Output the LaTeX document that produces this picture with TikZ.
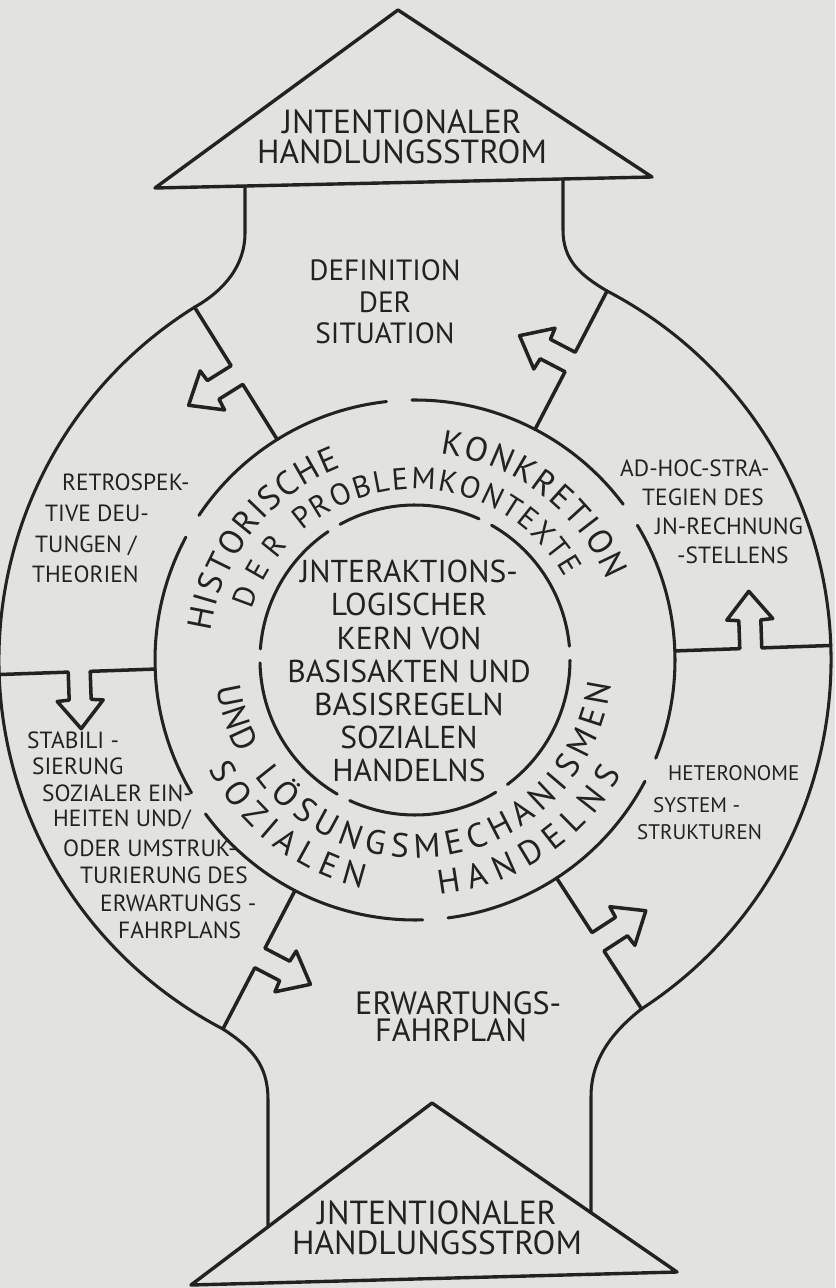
\documentclass[tikz,border=0pt]{standalone}
\usepackage{fontspec}
\setmainfont{PT Sans}
\usetikzlibrary{decorations.text}
\definecolor{paper}{RGB}{226,226,222}
\definecolor{ink}{RGB}{34,34,34}
\newcommand\ringfont{\fontsize{29}{29}\selectfont}
\newcommand\ringfontsm{\fontsize{26}{26}\selectfont}
\tikzset{ rim/.style = { draw = ink % circles, stems, triangles
        , line width = 2.6pt
        , line cap = round
        , line join = round
        }
        , arr/.style = { rim % divider with block arrow
        , line width = 3pt
        }
        , tri/.style = { text = ink % centred texts
        , align = center
        , inner sep = 0pt
        , font = \fontsize{28.5}{26}\selectfont
        }
        , side/.style = { text = ink % side labels
        , anchor = west
        , inner sep = 0pt
        , font = \fontsize{20}{20}\selectfont
        }
        , ringtxt/.style = { decorate % text round the ring
        , decoration = { text along path
                       , text align = {fit to path}
                       , text color = ink
                       , text = {#1}
                       }
        }
        }
\begin{document}
\begin{tikzpicture}[x=0.03cm, y=0.03cm]
\useasboundingbox (-415,-628) rectangle (420,660);
\fill[paper] (-415,-628) rectangle (420,660);

% junctions on the outer circle
\coordinate (jtl) at (122:416);
\coordinate (jtr) at (62.5:416);
\coordinate (jbl) at (242.5:416);
\coordinate (jbr) at (303:416);

% triangles
\coordinate (tapex) at (-17,650);
\coordinate (tleft) at (-260,472);
\coordinate (tright) at (237,483);
\coordinate (bapex) at (17,-443);
\coordinate (bleft) at (-224,-625);
\coordinate (bright) at (262,-612);
\draw[rim, line width=2.9pt] (tapex) -- (tleft) -- (tright) -- cycle;
\draw[rim, line width=2.9pt] (bapex) -- (bleft) -- (bright) -- cycle;

% stems
\draw[rim] (jtl) .. controls (-190,370) and (-170,395) .. (-170,427) -- (-170,474);
\draw[rim] (jtr) .. controls (165,385) and (148,400) .. (148,430) -- (148,481);
\draw[rim] (jbl) .. controls (-163,-388) and (-147,-405) .. (-147,-440) -- (-147,-567);
\draw[rim] (jbr) .. controls (196,-373) and (176,-400) .. (176,-437) -- (176,-553);

% circles
\draw[rim] (jtl) arc[start angle=122, end angle=242.5, radius=416];
\draw[rim] (jbr) arc[start angle=303, end angle=422.5, radius=416];
\foreach \s/\e in {36.8/90.7, 96.3/146.2, 151.8/210.7, 216.3/271.7, 277.3/332.2, 337.8/391.2}
  \draw[rim] (\s:260) arc[start angle=\s, end angle=\e, radius=260];
\foreach \s/\e in {5.1/60.4, 65.6/118.9, 124.1/175.9, 181.1/239.9, 245.1/301.4, 306.6/359.9}
  \draw[rim] (\s:155) arc[start angle=\s, end angle=\e, radius=155];

% dividers, each with its arrow
\foreach \a in {2,62.5,122,182,242.5,303}
  \draw[arr, rotate=\a] (260,0) -- (325,0) -- (325,28) -- (313,29) -- (336,57)
        -- (359,29) -- (347,28) -- (347,0) -- (416,0);

% texts
\node[tri] (topflow) at (-13,523) {JNTENTIONALER\\HANDLUNGSSTROM};
\node[tri] (botflow) at (22,-568) {JNTENTIONALER\\HANDLUNGSSTROM};
\node[tri, font=\fontsize{25}{27}\selectfont] (defsit) at (-30,358) {DEFINITION\\DER\\SITUATION};
\node[tri, font=\fontsize{27}{28.2}\selectfont] (core) at (-6,-11)
  {JNTERAKTIONS-\\LOGISCHER\\KERN VON\\BASISAKTEN UND\\BASISREGELN\\SOZIALEN\\HANDELNS};

\node[side] (retro1) at (-353,178) {RETROSPEK-};
\node[side] (retro2) at (-370,147) {TIVE DEU-};
\node[side] (retro3) at (-380,114) {TUNGEN /};
\node[side] (retro4) at (-383,86) {THEORIEN};

\node[side] (adhoc1) at (205,192) {AD-HOC-STRA-};
\node[side] (adhoc2) at (227,163) {TEGIEN DES};
\node[side] (adhoc3) at (240,134) {JN-RECHNUNG};
\node[side] (adhoc4) at (262,105) {-STELLENS};

\node[side] (stab1) at (-388,-80) {STABILI -};
\node[side] (stab2) at (-383,-106) {SIERUNG};
\node[side] (stab3) at (-373,-133) {SOZIALER EIN-};
\node[side] (stab4) at (-362,-160) {HEITEN UND/};
\node[side] (stab5) at (-352,-188) {ODER UMSTRUK-};
\node[side] (stab6) at (-335,-215) {TURIERUNG DES};
\node[side] (stab7) at (-315,-243) {ERWARTUNGS -};
\node[side] (stab8) at (-297,-270) {FAHRPLANS};

\node[side, font=\fontsize{18}{18}\selectfont] (het1) at (253,-113) {HETERONOME};
\node[side, font=\fontsize{18}{18}\selectfont] (het2) at (238,-145) {SYSTEM -};
\node[side, font=\fontsize{18}{18}\selectfont] (het3) at (222,-172) {STRUKTUREN};

\node[side, font=\fontsize{27.5}{27.5}\selectfont] (erw1) at (-60,-343) {ERWARTUNGS-};
\node[side, font=\fontsize{27.5}{27.5}\selectfont] (erw2) at (-40,-370) {FAHRPLAN};

% ring texts
\path[ringtxt={|\ringfont|HISTORISCHE}] (172:206) arc[start angle=172, end angle=111, radius=206];
\path[ringtxt={|\ringfont|KONKRETION}] (83:208) arc[start angle=83, end angle=22.5, radius=208];
\path[ringtxt={|\ringfontsm|DER}] (163:171) arc[start angle=163, end angle=138, radius=171];
\path[ringtxt={|\ringfontsm|PROBLEMKONTEXTE}] (131:171) arc[start angle=131, end angle=29, radius=171];
\path[ringtxt={|\ringfont|UND}] (188:200) arc[start angle=188, end angle=208, radius=200];
\path[ringtxt={|\ringfont|LÖSUNGSMECHANISMEN}] (216:198) arc[start angle=216, end angle=353, radius=198];
\path[ringtxt={|\ringfont|SOZIALEN}] (208:234) arc[start angle=208, end angle=257, radius=234];
\path[ringtxt={|\ringfont|HANDELNS}] (276:236) arc[start angle=276, end angle=331, radius=236];
\end{tikzpicture}
\end{document}
